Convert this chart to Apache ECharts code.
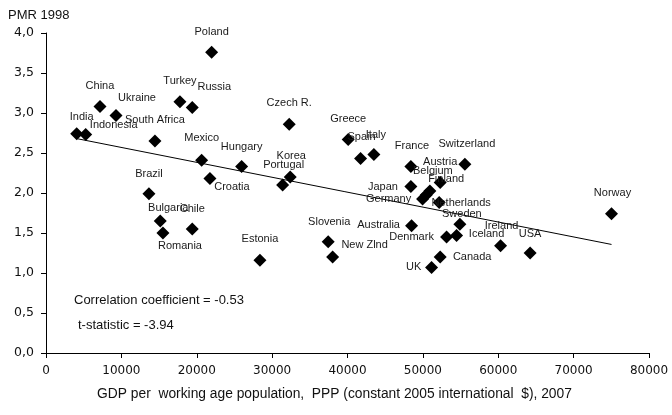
<!DOCTYPE html>
<html>
<head>
<meta charset="utf-8">
<script src="https://cdn.jsdelivr.net/npm/echarts@6/dist/echarts.min.js"></script>
<style>html,body{margin:0;padding:0;background:#fff}#c{width:672px;height:415px}</style>
</head>
<body>
<div id="c"></div>
<script>
// ---- data ----
const countries = ["Poland","China","Ukraine","Turkey","Russia","India","Indonesia","South Africa","Mexico","Hungary","Croatia","Brazil","Bulgaria","Romania","Chile","Czech R.","Korea","Portugal","Greece","Spain","Italy","France","Switzerland","Finland","Japan","Germany","Austria","Belgium","Netherlands","Sweden","Denmark","Iceland","Ireland","USA","Canada","UK","Australia","Slovenia","New Zlnd","Estonia","Norway"];
const gdp = [21976,7162,9284,17772,19403,4072,5265,14456,20650,25955,21751,13660,15159,15517,19403,32268,32401,31393,40093,41737,43501,48408,55570,52294,48408,49960,50438,50928,52162,54907,53143,54469,60305,64231,52294,51154,48501,37440,38024,28382,75027];
const pmr = [3.76,3.08,2.97,3.14,3.07,2.74,2.73,2.65,2.41,2.33,2.18,1.99,1.65,1.50,1.55,2.86,2.20,2.10,2.67,2.43,2.48,2.33,2.36,2.13,2.08,1.925,1.975,2.025,1.88,1.61,1.45,1.47,1.34,1.25,1.20,1.07,1.59,1.39,1.20,1.16,1.74];
const trendX = [4072, 75027];
const trendY = [2.68, 1.357];
const yTicks = [0, 0.5, 1, 1.5, 2, 2.5, 3, 3.5, 4];
const xTicks = [0, 10000, 20000, 30000, 40000, 50000, 60000, 70000, 80000];
const annotations = ["Correlation coefficient = -0.53", "t-statistic = -3.94"];

// ---- label placement (layout, px offsets from the marker centre) ----
const labelOffsets = {
  "Poland":[0,-20],"China":[0,-21],"Ukraine":[21,-17],"Turkey":[0,-21],"Russia":[22,-20],
  "India":[5,-17],"Indonesia":[28,-10],"South Africa":[0,-21],"Mexico":[0,-22],"Hungary":[0,-20],
  "Croatia":[22,8],"Brazil":[0,-20],"Bulgaria":[8,-13],"Romania":[17,13],"Chile":[0,-20],
  "Czech R.":[0,-21],"Korea":[1,-21],"Portugal":[1,-20],"Greece":[0,-20],"Spain":[1,-22],
  "Italy":[2,-20],"France":[1,-21],"Switzerland":[2,-20],"Finland":[6,-4],"Japan":[-28,0],
  "Germany":[-34,0],"Austria":[14,-33],"Belgium":[3,-20],"Netherlands":[22,0],"Sweden":[2,-10],
  "Denmark":[-35,0],"Iceland":[30,-1],"Ireland":[1,-20],"USA":[0,-19],"Canada":[32,0],
  "UK":[-18,0],"Australia":[-33,-1],"Slovenia":[1,-20],"New Zlnd":[32,-12],"Estonia":[0,-21],
  "Norway":[1,-21]
};

const points = countries.map((n, i) => ({
  name: n,
  value: [gdp[i], pmr[i]],
  label: { offset: labelOffsets[n] || [0, -20] }
}));

const chart = echarts.init(document.getElementById('c'), null, {renderer: 'canvas'});
const tickFont = 'DejaVu Sans';
chart.setOption({
  animation: false,
  backgroundColor: '#fff',
  grid: { left: 46, right: 23, top: 33, bottom: 62, containLabel: false },
  xAxis: {
    type: 'value', min: xTicks[0], max: xTicks[xTicks.length - 1], interval: xTicks[1] - xTicks[0],
    name: 'GDP per  working age population,  PPP (constant 2005 international  $), 2007',
    nameLocation: 'middle', nameGap: 34,
    nameTextStyle: { fontFamily: 'Liberation Sans', fontSize: 13.8, color: '#111', padding: [0, 26, 0, 0] },
    axisLine: { lineStyle: { color: '#000', width: 1 } },
    axisTick: { show: true, length: 5, lineStyle: { color: '#000' } },
    axisLabel: { margin: 12, fontFamily: tickFont, fontSize: 12, color: '#111',
      formatter: v => String(v) },
    splitLine: { show: false }
  },
  yAxis: {
    type: 'value', min: yTicks[0], max: yTicks[yTicks.length - 1], interval: yTicks[1] - yTicks[0],
    name: 'PMR 1998', nameLocation: 'end', nameGap: 11,
    nameTextStyle: { fontFamily: 'Liberation Sans', fontSize: 13, color: '#111', align: 'left', padding: [0, 0, 0, -38] },
    axisLine: { show: true, lineStyle: { color: '#000', width: 1 } },
    axisTick: { show: true, length: 5, lineStyle: { color: '#000' } },
    axisLabel: { margin: 12, fontFamily: tickFont, fontSize: 12.5, color: '#111',
      formatter: v => v.toFixed(1).replace('.', ',') },
    splitLine: { show: false }
  },
  graphic: [
    { type: 'text', left: 74, top: 294, style: { text: annotations[0], font: '13px "Liberation Sans"', fill: '#111' } },
    { type: 'text', left: 78, top: 319, style: { text: annotations[1], font: '13px "Liberation Sans"', fill: '#111' } }
  ],
  series: [
    {
      type: 'line', data: trendX.map((x, i) => [x, trendY[i]]),
      symbol: 'none', lineStyle: { color: '#000', width: 1 }, z: 2, silent: true
    },
    {
      type: 'scatter', data: points, symbol: 'diamond', symbolSize: [13, 13],
      itemStyle: { color: '#000', opacity: 1 }, z: 3,
      label: { show: true, position: 'inside', formatter: p => p.name,
        fontFamily: 'Liberation Sans', fontSize: 11, color: '#1a1a1a' }
    }
  ]
});
</script>
</body>
</html>
